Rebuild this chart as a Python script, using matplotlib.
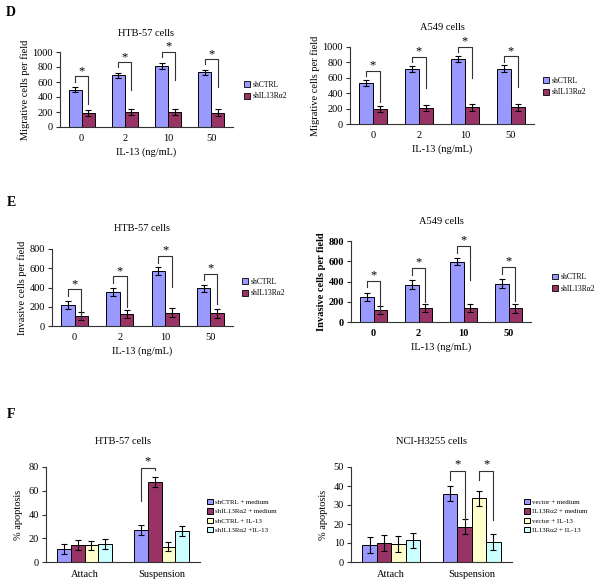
import matplotlib
matplotlib.use("Agg")
import matplotlib.pyplot as plt
import numpy as np
from matplotlib.patches import Patch

plt.rcParams['font.family'] = ['Liberation Serif', 'DejaVu Serif']

W, H = 600, 585

# ---------------- data ----------------
doses = ["0", "2", "10", "50"]
series_sh = ["shCTRL", "shIL13R\u03b12"]

mig_htb_ctrl = [500, 690, 820, 730]
mig_htb_ctrl_err = [35, 35, 40, 35]
mig_htb_sh = [190, 200, 200, 190]
mig_htb_sh_err = [40, 40, 40, 45]

mig_a549_ctrl = [530, 710, 840, 720]
mig_a549_ctrl_err = [40, 40, 40, 40]
mig_a549_sh = [195, 210, 215, 215]
mig_a549_sh_err = [40, 40, 45, 40]

inv_htb_ctrl = [220, 355, 570, 390]
inv_htb_ctrl_err = [40, 40, 40, 35]
inv_htb_sh = [105, 125, 140, 130]
inv_htb_sh_err = [45, 45, 45, 45]

inv_a549_ctrl = [245, 370, 595, 380]
inv_a549_ctrl_err = [40, 40, 35, 40]
inv_a549_sh = [120, 135, 140, 135]
inv_a549_sh_err = [40, 40, 40, 45]

conditions = ["Attach", "Suspension"]
apo_htb_labels = ["shCTRL + medium", "shIL13R\u03b12 + medium", "shCTRL + IL-13", "shIL13R\u03b12 +IL-13"]
apo_htb_vals = [[11, 14.5, 14, 15], [27, 67.5, 13, 26]]
apo_htb_err = [[4, 4, 4, 4], [4, 4, 4, 4]]
apo_htb_sig = [(1, 0, 1)]  # (condition, bar i, bar j)

apo_nci_labels = ["vector + medium", "IL13R\u03b12 + medium", "vector + IL-13", "IL13R\u03b12 + IL-13"]
apo_nci_vals = [[9, 10, 9.5, 11.5], [36, 18.5, 33.5, 10.5]]
apo_nci_err = [[4, 4, 4, 4], [4, 4, 4, 4]]
apo_nci_sig = [(1, 0, 1), (1, 2, 3)]

colors4 = ["#9999FF", "#993366", "#FFFFCC", "#CCFFFF"]

fig = plt.figure(figsize=(W / 100, H / 100), dpi=100)


def px_axes(x0, y0, x1, y1):
    return fig.add_axes([x0 / W, 1 - y1 / H, (x1 - x0) / W, (y1 - y0) / H])


def style_axes(ax, ymax, step, bold=False, fs=7.5):
    for s in ["top", "right"]:
        ax.spines[s].set_visible(False)
    for s in ["left", "bottom"]:
        ax.spines[s].set_color("#333333")
        ax.spines[s].set_linewidth(0.8)
    ax.set_ylim(0, ymax)
    ax.set_yticks(np.arange(0, ymax + step / 2, step))
    ax.tick_params(axis="y", length=3, width=0.8, labelsize=fs, pad=2, color="#333333")
    ax.tick_params(axis="x", length=0, labelsize=fs, pad=5)
    if bold:
        for t in ax.get_yticklabels() + ax.get_xticklabels():
            t.set_fontweight("bold")


def bracket(ax, x1, x2, top, lend, rend, star_off):
    ax.plot([x1, x1, x2, x2], [lend, top, top, rend], color="#333333", lw=0.8,
            clip_on=False, zorder=5)
    ax.text((x1 + x2) / 2, top + star_off, "*", ha="center", va="center",
            fontsize=9, clip_on=False)


def two_bar_panel(rect, ctrl, ctrl_err, sh, sh_err, ymax, step, title, ylabel,
                  leg_xy, a, b, c, title_y, bold=False):
    ax = px_axes(*rect)
    x = np.arange(len(doses))
    w = 0.3
    ax.bar(x - w / 2, ctrl, w, color=colors4[0], edgecolor="black", lw=0.7,
           yerr=ctrl_err, error_kw=dict(ecolor="black", elinewidth=0.8, capsize=2, capthick=0.8))
    ax.bar(x + w / 2, sh, w, color=colors4[1], edgecolor="black", lw=0.7,
           yerr=sh_err, error_kw=dict(ecolor="black", elinewidth=0.8, capsize=2, capthick=0.8))
    ax.set_xlim(-0.5, len(doses) - 0.5)
    ax.set_xticks(x)
    ax.set_xticklabels(doses)
    style_axes(ax, ymax, step, bold=bold)
    for i in range(len(doses)):
        top = ctrl[i] + ctrl_err[i] + a * ymax
        bracket(ax, x[i] - w / 2, x[i] + w / 2, top, top - b * ymax, top - c * ymax,
                0.07 * ymax)
    ax.set_xlabel("IL-13 (ng/mL)", fontsize=7.5, labelpad=3)
    ax.set_ylabel(ylabel, fontsize=7.5, labelpad=2,
                  fontweight="bold" if bold else "normal")
    fig.text((rect[0] + rect[2]) / 2 / W, 1 - title_y / H, title, ha="center",
             va="center", fontsize=7.5)
    handles = [Patch(facecolor=colors4[k], edgecolor="black", lw=0.6) for k in range(2)]
    ax.legend(handles, series_sh, loc="center left",
              bbox_to_anchor=(leg_xy[0] / W, 1 - leg_xy[1] / H),
              bbox_transform=fig.transFigure, frameon=False, fontsize=5.5,
              handlelength=0.8, handleheight=0.8, handletextpad=0.3,
              labelspacing=0.5, borderpad=0, borderaxespad=0)
    return ax


def four_bar_panel(rect, vals, errs, labels, sig, ymax, step, title, leg_xy,
                   a, b, c, title_y):
    ax = px_axes(*rect)
    x = np.arange(len(conditions))
    w = 0.18
    offs = (np.arange(4) - 1.5) * w
    for k in range(4):
        ax.bar(x + offs[k], [v[k] for v in vals], w, color=colors4[k],
               edgecolor="black", lw=0.7, label=labels[k],
               yerr=[e[k] for e in errs],
               error_kw=dict(ecolor="black", elinewidth=0.8, capsize=2, capthick=0.8))
    ax.set_xlim(-0.5, len(conditions) - 0.5)
    ax.set_xticks(x)
    ax.set_xticklabels(conditions)
    style_axes(ax, ymax, step)
    ax.tick_params(axis="x", pad=6)
    for (g, i, j) in sig:
        top = max(vals[g][k] + errs[g][k] for k in range(4)) + a * ymax
        bracket(ax, x[g] + offs[i], x[g] + offs[j], top, top - b * ymax,
                top - c * ymax, 0.07 * ymax)
    ax.set_ylabel("% apoptosis", fontsize=7.5, labelpad=4)
    fig.text((rect[0] + rect[2]) / 2 / W, 1 - title_y / H, title, ha="center",
             va="center", fontsize=7.5)
    ax.legend(loc="center left", bbox_to_anchor=(leg_xy[0] / W, 1 - leg_xy[1] / H),
              bbox_transform=fig.transFigure, frameon=False, fontsize=5,
              handlelength=0.8, handleheight=0.8, handletextpad=0.3,
              labelspacing=0.45, borderpad=0, borderaxespad=0)
    return ax


# Panel D
two_bar_panel((60, 52, 233, 127), mig_htb_ctrl, mig_htb_ctrl_err, mig_htb_sh,
              mig_htb_sh_err, 1000, 200, "HTB-57 cells", "Migrative cells per field",
              (244, 90.5), 0.14, 0.07, 0.37, 33)
two_bar_panel((350, 47, 534, 124), mig_a549_ctrl, mig_a549_ctrl_err, mig_a549_sh,
              mig_a549_sh_err, 1000, 200, "A549 cells", "Migrative cells per field",
              (543, 86.5), 0.12, 0.07, 0.4, 28)

# Panel E
two_bar_panel((52, 249, 233, 326), inv_htb_ctrl, inv_htb_ctrl_err, inv_htb_sh,
              inv_htb_sh_err, 800, 200, "HTB-57 cells", "Invasive cells per field",
              (242, 287.5), 0.15, 0.09, 0.4, 229)
two_bar_panel((351, 241, 531, 322), inv_a549_ctrl, inv_a549_ctrl_err, inv_a549_sh,
              inv_a549_sh_err, 800, 200, "A549 cells", "Invasive cells per field",
              (552, 283), 0.15, 0.08, 0.42, 222, bold=True)

# Panel F
four_bar_panel((46, 467, 200, 562), apo_htb_vals, apo_htb_err, apo_htb_labels,
               apo_htb_sig, 80, 20, "HTB-57 cells", (207, 516), 0.1, 0.35, 0.03, 442)
four_bar_panel((351, 467, 512, 562), apo_nci_vals, apo_nci_err, apo_nci_labels,
               apo_nci_sig, 50, 10, "NCI-H3255 cells", (524, 516), 0.16, 0.1, 0.52, 441)

# Panel letters
for letter, (lx, ly) in {"D": (11, 12), "E": (11, 202), "F": (11, 415)}.items():
    fig.text(lx / W, 1 - ly / H, letter, fontsize=10, fontweight="bold",
             ha="center", va="center")

fig.savefig("out.png", dpi=100)
